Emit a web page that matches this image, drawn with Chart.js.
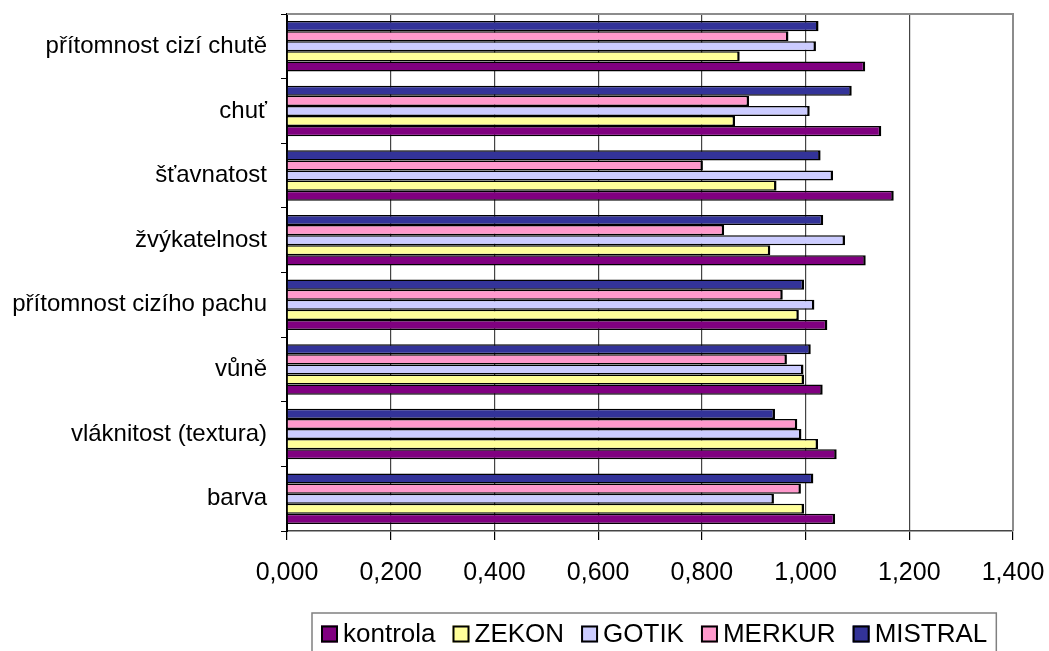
<!DOCTYPE html>
<html lang="cs">
<head>
<meta charset="utf-8">
<title>Senzorické hodnocení</title>
<script src="https://cdn.jsdelivr.net/npm/chart.js@4.4.1/dist/chart.umd.min.js"></script>
<style>
  html, body { margin: 0; padding: 0; background: #fff; }
  #wrap { width: 1049px; height: 651px; overflow: hidden; }
</style>
</head>
<body>
<div id="wrap"><canvas id="c" width="1049" height="651"></canvas></div>
<script>
// Sensory attributes, listed top to bottom
const categories = [
  'přítomnost cizí chutě',
  'chuť',
  'šťavnatost',
  'žvýkatelnost',
  'přítomnost cizího pachu',
  'vůně',
  'vláknitost (textura)',
  'barva'
];

// Relative scores per variant (same order as categories)
const kontrola = [1.115, 1.146, 1.170, 1.116, 1.042, 1.033, 1.060, 1.057];
const zekon    = [0.873, 0.864, 0.944, 0.932, 0.987, 0.997, 1.024, 0.997];
const gotik    = [1.020, 1.008, 1.053, 1.076, 1.017, 0.996, 0.992, 0.939];
const merkur   = [0.967, 0.891, 0.802, 0.843, 0.956, 0.964, 0.984, 0.991];
const mistral  = [1.025, 1.089, 1.029, 1.034, 0.997, 1.010, 0.941, 1.015];

// Value axis ticks
const xTicks = [0, 0.2, 0.4, 0.6, 0.8, 1.0, 1.2, 1.4];

// Legend order (left to right)
const legendOrder = ['kontrola', 'ZEKON', 'GOTIK', 'MERKUR', 'MISTRAL'];

const FONT = "'Liberation Sans', Arial, Helvetica, sans-serif";

// Datasets from top bar to bottom bar inside each group
const datasets = [
  { label: 'MISTRAL',  data: mistral,  backgroundColor: '#333399' },
  { label: 'MERKUR',   data: merkur,   backgroundColor: '#FF99CC' },
  { label: 'GOTIK',    data: gotik,    backgroundColor: '#CCCCFF' },
  { label: 'ZEKON',    data: zekon,    backgroundColor: '#FFFF99' },
  { label: 'kontrola', data: kontrola, backgroundColor: '#800080' }
].map(d => Object.assign(d, {
  borderColor: '#000',
  borderWidth: { top: 1.5, bottom: 1.5, right: 2.5, left: 0 },
  borderSkipped: false,
  categoryPercentage: 0.783,
  barPercentage: 1.0
}));

// Gray frame on the top and right of the plot area
const frame = {
  id: 'frame',
  beforeDatasetsDraw(chart) {
    const { ctx, chartArea: a } = chart;
    ctx.save();
    ctx.strokeStyle = '#8c8c8c';
    ctx.lineWidth = 2;
    ctx.beginPath();
    ctx.moveTo(a.left, a.top);
    ctx.lineTo(a.right, a.top);
    ctx.lineTo(a.right, a.bottom);
    ctx.stroke();
    ctx.restore();
  }
};

// Boxed legend under the axis
const boxedLegend = {
  id: 'boxedLegend',
  afterDraw(chart) {
    const { ctx, chartArea: a } = chart;
    const size = 26, sq = 17, gapText = 5, gapItem = 17, pad = 9;
    const cy = 634;
    ctx.save();
    ctx.font = size + 'px ' + FONT;
    const items = legendOrder.map(name => {
      const ds = chart.data.datasets.find(d => d.label === name);
      return { name, color: ds.backgroundColor, w: ctx.measureText(name).width };
    });
    let total = pad * 2;
    items.forEach((it, i) => { total += sq + gapText + it.w + (i < items.length - 1 ? gapItem : 0); });
    const cx = (a.left + a.right) / 2 + 4;
    const left = Math.round(cx - total / 2);
    ctx.strokeStyle = '#808080';
    ctx.lineWidth = 1.5;
    ctx.strokeRect(left, 613, total, 48);
    let x = left + pad;
    ctx.textBaseline = 'middle';
    ctx.textAlign = 'left';
    items.forEach(it => {
      ctx.fillStyle = it.color;
      ctx.fillRect(x, cy - sq / 2, sq, sq);
      ctx.strokeStyle = '#000';
      ctx.lineWidth = 2;
      ctx.strokeRect(x + 1, cy - sq / 2 + 1, sq - 2, sq - 2);
      x += sq + gapText;
      ctx.fillStyle = '#000';
      ctx.fillText(it.name, x, cy + 1);
      x += it.w + gapItem;
    });
    ctx.restore();
  }
};

new Chart(document.getElementById('c'), {
  type: 'bar',
  data: { labels: categories, datasets },
  options: {
    indexAxis: 'y',
    responsive: false,
    animation: false,
    devicePixelRatio: 1,
    layout: { padding: { top: 14, right: 36, bottom: 60, left: 0 } },
    plugins: {
      legend: { display: false },
      tooltip: { enabled: false }
    },
    scales: {
      x: {
        min: 0,
        max: 1.4,
        afterBuildTicks(scale) { scale.ticks = xTicks.map(v => ({ value: v })); },
        afterFit(scale) {
          scale.height = 60;
          scale.paddingLeft = 0;
          scale.paddingRight = 0;
        },
        ticks: {
          color: '#000',
          font: { family: FONT, size: 25 },
          padding: 18,
          maxRotation: 0,
          callback: v => Number(v).toFixed(3).replace('.', ',')
        },
        grid: {
          drawOnChartArea: true,
          drawTicks: true,
          tickLength: 9,
          tickColor: '#000',
          lineWidth: 1.2,
          color: ctx => {
            const v = ctx.tick ? ctx.tick.value : null;
            if (v === 0) return 'rgba(0,0,0,0)';
            if (v !== null && Math.abs(v - 1.4) < 1e-9) return '#8c8c8c';
            return '#444';
          }
        },
        border: { display: true, color: '#444', width: 1.5 }
      },
      y: {
        afterFit(scale) {
          scale.width = 287;
          scale.paddingTop = 0;
          scale.paddingBottom = 0;
        },
        ticks: {
          color: '#000',
          font: { family: FONT, size: 24 },
          padding: 14
        },
        grid: {
          offset: true,
          drawOnChartArea: false,
          drawTicks: true,
          tickLength: 6,
          color: '#000',
          lineWidth: 1
        },
        border: { display: true, color: '#000', width: 2 }
      }
    }
  },
  plugins: [frame, boxedLegend]
});
</script>
</body>
</html>
